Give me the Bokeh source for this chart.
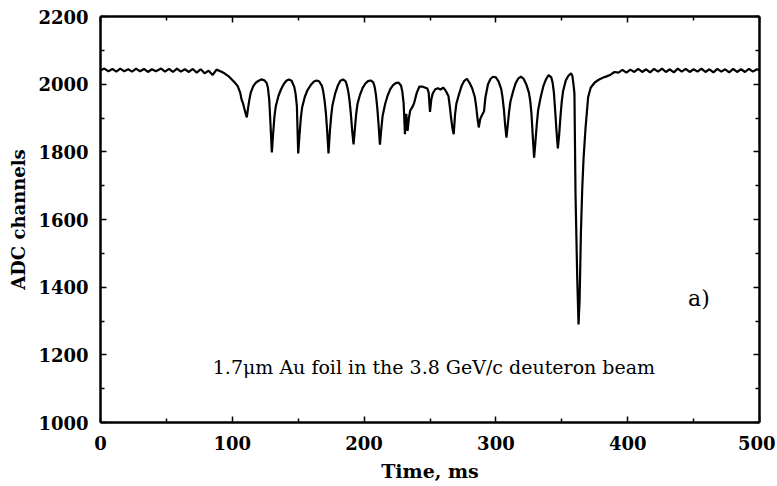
from bokeh.plotting import figure
from bokeh.models import Range1d, FixedTicker, LinearAxis, Label
from bokeh.embed import file_html
from bokeh.resources import INLINE

# ---- data (time in ms, ADC channels) ----
t_base_before = [0, 3, 6, 9, 12, 15, 18, 21, 24, 27, 30, 33, 36, 39, 42, 46, 49, 52, 55, 58,
                 61, 64, 67, 70, 73, 76, 79, 82, 85, 88, 91, 94, 97]
v_base_before = [2041, 2046, 2038, 2045, 2037, 2046, 2038, 2044, 2037, 2046, 2038, 2045, 2036,
                 2044, 2038, 2046, 2037, 2045, 2036, 2046, 2037, 2044, 2036, 2045, 2034, 2044,
                 2032, 2040, 2027, 2043, 2038, 2032, 2024]

t_dips = [100, 102, 104, 106, 107, 108, 109, 110, 111, 112, 113, 114, 116, 118, 120, 122, 124,
          126, 127, 128, 129, 130, 131, 132, 133, 135, 137, 139, 141, 143, 145, 147, 148, 149,
          150, 151, 152, 153, 155, 157, 160, 162, 164, 166, 168, 169, 170, 171, 172, 173, 174,
          175, 176, 178, 180, 182, 184, 186, 187, 188, 189, 190, 191, 192, 193, 194, 195, 197,
          199, 201, 203, 205, 207, 208, 209, 210, 211, 212, 213, 214, 216, 218, 220, 222, 224,
          226, 228, 229, 230, 231, 232, 233, 234, 235, 237, 238, 240, 242, 244, 246, 248, 249,
          250, 251, 252, 254, 256, 258, 260, 262, 264, 265, 266, 267, 268, 269, 270, 272, 274,
          276, 278, 280, 282, 284, 285, 286, 287, 288, 289, 291, 292, 294, 296, 298, 300, 302,
          304, 305, 306, 307, 308, 309, 310, 311, 313, 315, 317, 319, 321, 323, 325, 326, 327,
          328, 329, 330, 331, 332, 334, 336, 338, 340, 342, 343, 344, 345, 346, 347, 348, 349,
          350, 351, 353, 355, 357, 358, 359]
v_dips = [2012, 2004, 1995, 1975, 1955, 1945, 1930, 1915, 1902, 1930, 1955, 1975, 1995, 2005,
          2010, 2014, 2012, 2004, 1990, 1955, 1880, 1798, 1855, 1905, 1935, 1965, 1985, 2000,
          2010, 2014, 2010, 1992, 1972, 1935, 1795, 1850, 1900, 1932, 1962, 1982, 2000, 2008,
          2011, 2008, 1995, 1978, 1952, 1915, 1860, 1795, 1858, 1905, 1938, 1972, 1995, 2010,
          2014, 2008, 1996, 1978, 1950, 1910, 1860, 1822, 1868, 1912, 1942, 1970, 1990, 2002,
          2009, 2011, 2005, 1992, 1968, 1930, 1880, 1821, 1865, 1905, 1942, 1968, 1986, 1997,
          2003, 2005, 1996, 1978, 1943, 1852, 1912, 1862, 1900, 1922, 1935, 1945, 1975, 1993,
          1993, 1990, 1987, 1975, 1918, 1955, 1972, 1985, 1988, 1984, 1990, 1980, 1965, 1935,
          1900, 1870, 1852, 1910, 1942, 1970, 1995, 2010, 2016, 2004, 1988, 1962, 1935, 1900,
          1872, 1895, 1905, 1920, 1960, 2000, 2016, 2022, 2020, 2008, 1986, 1962, 1928, 1880,
          1842, 1880, 1918, 1948, 1978, 2003, 2017, 2022, 2016, 2000, 1976, 1952, 1912, 1845,
          1783, 1830, 1880, 1922, 1962, 1994, 2014, 2027, 2020, 2005, 1975, 1920, 1860, 1810,
          1850, 1905, 1950, 1980, 2011, 2025, 2032, 2025, 1995]

t_deep = [359.6, 360.4, 361.7, 362.7, 363.5, 364.5, 365.5, 366.5, 368, 370, 372, 375, 378,
          381, 384, 387, 390]
v_deep = [1972, 1676, 1428, 1290, 1360, 1560, 1690, 1780, 1870, 1962, 1990, 2005, 2013, 2019,
          2023, 2028, 2036]

t_base_after = [393, 396, 399, 402, 405, 408, 411, 414, 417, 420, 423, 426, 429, 432, 435, 438,
                441, 444, 447, 450, 453, 456, 459, 462, 465, 468, 471, 474, 477, 480, 483, 486,
                489, 492, 495, 498, 500]
v_base_after = [2034, 2042, 2034, 2043, 2036, 2045, 2036, 2044, 2035, 2045, 2037, 2046, 2036,
                2044, 2035, 2046, 2037, 2045, 2036, 2044, 2037, 2046, 2036, 2044, 2035, 2045,
                2037, 2044, 2035, 2045, 2036, 2044, 2036, 2045, 2037, 2044, 2041]

x_ticks = [0, 100, 200, 300, 400, 500]
x_minor = [50, 150, 250, 350, 450]
y_ticks = [1000, 1200, 1400, 1600, 1800, 2000, 2200]
y_minor = [1100, 1300, 1500, 1700, 1900, 2100]

x_title = "Time, ms"
y_title = "ADC channels"
caption = "1.7\u03bcm Au foil in the 3.8 GeV/c deuteron beam"
panel_tag = "a)"

time_ms = t_base_before + t_dips + t_deep + t_base_after
adc = v_base_before + v_dips + v_deep + v_base_after

# ---- figure ----
p = figure(width=775, height=486, output_backend="svg", toolbar_location=None,
           x_range=Range1d(0, 500), y_range=Range1d(1000, 2200),
           min_border_left=100, min_border_right=16, min_border_top=16, min_border_bottom=64)
p.grid.visible = False
p.outline_line_color = None
p.background_fill_color = "white"
p.border_fill_color = "white"

p.line(time_ms, adc, line_color="black", line_width=2.2)

FONT = "DejaVu Serif"


def style_axis(ax, show_labels=True):
    ax.axis_line_color = "black"
    ax.axis_line_width = 2.5
    ax.major_tick_in = 6
    ax.major_tick_out = 0
    ax.minor_tick_in = 4
    ax.minor_tick_out = 0
    ax.major_tick_line_color = "black"
    ax.minor_tick_line_color = "black"
    ax.major_tick_line_width = 1.5
    ax.minor_tick_line_width = 1.5
    ax.major_label_text_font = FONT
    ax.major_label_text_font_style = "bold"
    if show_labels:
        ax.major_label_text_color = "black"
        ax.major_label_text_font_size = "18px"
    else:
        ax.major_label_text_color = None
        ax.major_label_text_font_size = "1px"
        ax.major_label_standoff = 0


xb = p.xaxis[0]
yl = p.yaxis[0]
xb.ticker = FixedTicker(ticks=x_ticks, minor_ticks=x_minor)
yl.ticker = FixedTicker(ticks=y_ticks, minor_ticks=y_minor)
style_axis(xb)
style_axis(yl)
xb.major_label_standoff = 13
yl.major_label_standoff = 12

for ax in (xb, yl):
    ax.axis_label_text_font = FONT
    ax.axis_label_text_font_style = "bold"
    ax.axis_label_text_color = "black"
xb.axis_label_text_font_size = "19px"
yl.axis_label_text_font_size = "18px"
xb.axis_label = x_title
yl.axis_label = y_title
xb.axis_label_standoff = 7
yl.axis_label_standoff = 6

xt = LinearAxis(ticker=FixedTicker(ticks=x_ticks, minor_ticks=x_minor))
yr = LinearAxis(ticker=FixedTicker(ticks=y_ticks, minor_ticks=y_minor))
style_axis(xt, show_labels=False)
style_axis(yr, show_labels=False)
p.add_layout(xt, "above")
p.add_layout(yr, "right")

p.add_layout(Label(x=253, y=1165, text=caption, text_align="center", text_baseline="middle",
                   text_font=FONT, text_font_size="19px", text_color="black"))
p.add_layout(Label(x=454, y=1366, text=panel_tag, text_align="center", text_baseline="middle",
                   text_font=FONT, text_font_size="22px", text_color="black"))

open("out.html", "w").write(file_html(p, INLINE))
